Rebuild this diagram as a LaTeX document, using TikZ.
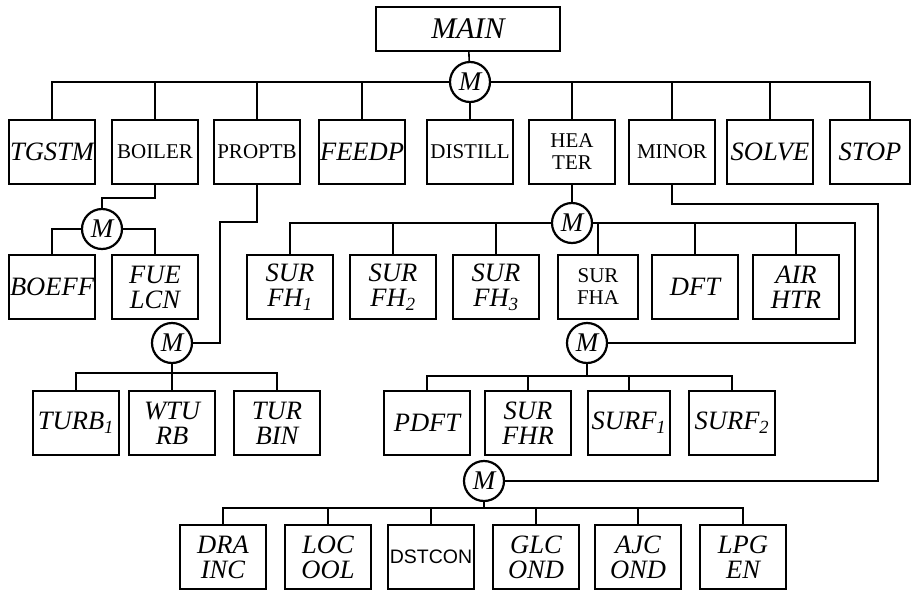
\documentclass[tikz,border=0pt]{standalone}
\usepackage{fontspec}
\setmainfont{Liberation Serif}
\newfontfamily\sansfnt{Liberation Sans}
\begin{document}
\begin{tikzpicture}[
  x=1pt, y=-1pt,
  modbox/.style={rectangle, draw, line width=2.4pt, minimum width=86pt, minimum height=64pt,
    inner sep=0pt, align=center, font=\fontsize{26.5}{25}\selectfont\itshape},
  upbox/.style={modbox, font=\fontsize{21}{22}\selectfont},
  mainbox/.style={modbox, minimum width=184pt, minimum height=44pt,
    font=\fontsize{30}{30}\selectfont\itshape},
  caller/.style={circle, draw, line width=2.2pt, minimum size=40pt, inner sep=0pt,
    font=\fontsize{27}{27}\selectfont\itshape},
  link/.style={line width=1.6pt},
]
\useasboundingbox (0,0) rectangle (911,592);

% Main program
\node[mainbox] (main) at (468,29) {MAIN};
\node[caller] (m1) at (470,82) {M};

% First level
\node[modbox] (tgstm) at (52,152) {TGSTM};
\node[upbox] (boiler) at (155,152) {BOILER};
\node[upbox] (proptb) at (257,152) {PROPTB};
\node[modbox] (feedp) at (362,152) {FEEDP};
\node[upbox] (distill) at (470,152) {DISTILL};
\node[upbox] (heater) at (572,152) {HEA\\TER};
\node[upbox] (minor) at (672,152) {MINOR};
\node[modbox] (solve) at (770,152) {SOLVE};
\node[modbox, minimum width=80pt] (stop) at (870,152) {STOP};

% Boiler branch
\node[caller] (m2) at (102,229) {M};
\node[modbox] (boeff) at (52,287) {BOEFF};
\node[modbox] (fuelcn) at (155,287) {FUE\\LCN};

% Property / turbine branch
\node[caller] (m3) at (172,343) {M};
\node[modbox] (turbone) at (76,423) {TURB\textsubscript{1}};
\node[modbox] (wturb) at (172,423) {WTU\\RB};
\node[modbox] (turbin) at (277,423) {TUR\\BIN};

% Heater branch
\node[caller] (m4) at (572,223) {M};
\node[modbox] (surfha) at (290,287) {SUR\\FH\textsubscript{1}};
\node[modbox] (surfhb) at (393,287) {SUR\\FH\textsubscript{2}};
\node[modbox] (surfhc) at (496,287) {SUR\\FH\textsubscript{3}};
\node[upbox, minimum width=80pt] (surfhd) at (598,287) {SUR\\FHA};
\node[modbox] (dft) at (695,287) {DFT};
\node[modbox] (airhtr) at (796,287) {AIR\\HTR};

\node[caller] (m5) at (587,343) {M};
\node[modbox] (pdft) at (427,423) {PDFT};
\node[modbox] (surfhr) at (528,423) {SUR\\FHR};
\node[modbox, minimum width=82pt] (surfone) at (629,423) {SURF\textsubscript{1}};
\node[modbox] (surftwo) at (732,423) {SURF\textsubscript{2}};

% Minor branch
\node[caller] (m6) at (484,481) {M};
\node[modbox] (drainc) at (223,557) {DRA\\INC};
\node[modbox] (locool) at (328,557) {LOC\\OOL};
\node[upbox, font=\fontsize{19.5}{20}\selectfont\sansfnt] (dstcon) at (431,557) {DSTCON};
\node[modbox] (glcond) at (536,557) {GLC\\OND};
\node[modbox] (ajcond) at (638,557) {AJC\\OND};
\node[modbox] (lpgen) at (743,557) {LPG\\EN};

% Bends and buses
\coordinate (pbend) at (220,222);
\coordinate (bus3) at (172,373);
\coordinate (hbend) at (855,343);
\coordinate (bus5) at (587,376);
\coordinate (nbend1) at (878,204);
\coordinate (nbend2) at (878,481);
\coordinate (bus6) at (484,508);

% Connectors
\draw[link] (main) -- (m1);
\draw[link] (m1) -- (distill);
\foreach \n in {tgstm,boiler,proptb,feedp,heater,minor,solve,stop}
  \draw[link] (m1) -| (\n);

\draw[link] (boiler.south) -- ++(0,13) -| (m2);
\draw[link] (m2) -| (boeff);
\draw[link] (m2) -| (fuelcn);

\draw[link] (proptb) |- (pbend) |- (m3);
\draw[link] (m3) -- (bus3) -- (wturb);
\draw[link] (bus3) -| (turbone);
\draw[link] (bus3) -| (turbin);

\draw[link] (heater) -- (m4);
\foreach \n in {surfha,surfhb,surfhc,surfhd,dft,airhtr}
  \draw[link] (m4) -| (\n);
\draw[link] (m4) -| (hbend) -- (m5);
\draw[link] (m5) -- (bus5);
\foreach \n in {pdft,surfhr,surfone,surftwo}
  \draw[link] (bus5) -| (\n);

\draw[link] (minor) |- (nbend1) -- (nbend2) -- (m6);
\draw[link] (m6) -- (bus6);
\foreach \n in {drainc,locool,dstcon,glcond,ajcond,lpgen}
  \draw[link] (bus6) -| (\n);
\end{tikzpicture}
\end{document}
